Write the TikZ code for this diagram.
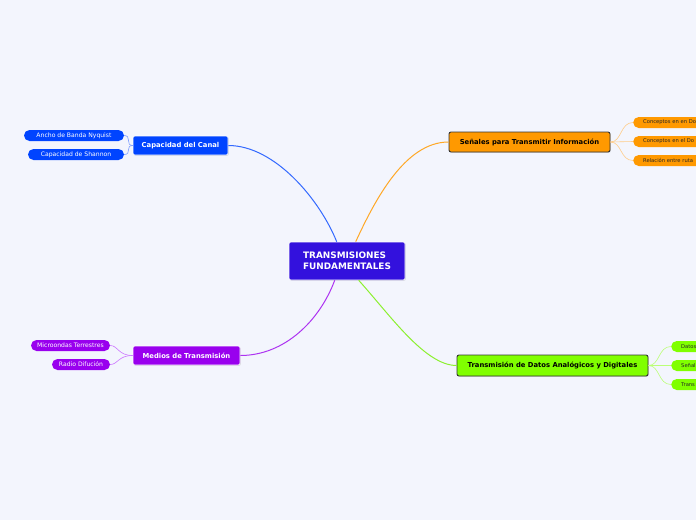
\documentclass[tikz,border=0pt]{standalone}
\usepackage{fontspec}
\setmainfont{DejaVu Sans}
\usetikzlibrary{shadows,calc}
\definecolor{bg}{HTML}{F3F5FD}
\definecolor{cmain}{HTML}{3311DD}
\definecolor{cblue}{HTML}{0044FF}
\definecolor{corange}{HTML}{FF9900}
\definecolor{cgreen}{HTML}{80FF00}
\definecolor{cpurple}{HTML}{9900EE}
\definecolor{lblue}{HTML}{7799FF}
\definecolor{lorange}{HTML}{FFCC88}
\definecolor{lgreen}{HTML}{BBFF77}
\definecolor{lpurple}{HTML}{CC77FF}
\definecolor{bgreen}{HTML}{8CF030}
\tikzset{
  topic/.style={rounded corners=2pt, inner sep=0pt, font=\bfseries\fontsize{6.8}{8}\selectfont},
  litetopic/.style={topic, draw=white, line width=0.6pt, text=white,
     drop shadow={shadow xshift=0.8pt, shadow yshift=-0.8pt, opacity=0.25}},
  darktopic/.style={topic, draw=black!80, line width=0.9pt, text=black,
     drop shadow={shadow xshift=0.8pt, shadow yshift=-0.8pt, opacity=0.25}},
  pill/.style={rounded corners=5.5pt, minimum height=11pt, inner sep=0pt, font=\fontsize{6.1}{7}\selectfont},
  cutpill/.style={pill, anchor=west, align=left, text=black!85, font=\fontsize{5.2}{6}\selectfont},
  branch/.style={line width=1pt},
  twig/.style={line width=0.6pt}
}
\begin{document}
\begin{tikzpicture}[x=1pt,y=-1pt]
\useasboundingbox (0,0) rectangle (696,520);
\fill[bg] (0,0) rectangle (696,520);
\clip (0,0) rectangle (696,520);

% central
\node[litetopic, fill=cmain, minimum width=116pt, minimum height=38pt, align=left,
      font=\bfseries\fontsize{8.9}{11}\selectfont] (center) at (347,261) {TRANSMISIONES\\FUNDAMENTALES};

% main topics
\node[litetopic, fill=cblue, minimum width=95pt, minimum height=19pt] (cap) at (180.5,145.5) {Capacidad del Canal};
\node[darktopic, fill=corange, minimum width=161pt, minimum height=20pt] (sen) at (529.5,142) {Señales para Transmitir Información};
\node[darktopic, fill=cgreen, minimum width=191pt, minimum height=21pt] (tra) at (552.5,365.5) {Transmisión de Datos Analógicos y Digitales};
\node[litetopic, fill=cpurple, minimum width=107pt, minimum height=19pt] (med) at (186.5,355.5) {Medios de Transmisión};

% sub topics
\node[pill, fill=cblue, text=white, minimum width=100pt] (nyq) at (74,135.5) {Ancho de Banda Nyquist};
\node[pill, fill=cblue, text=white, minimum width=96pt] (sha) at (76,154.5) {Capacidad de Shannon};
\node[pill, fill=cpurple, text=white, minimum width=79pt] (mic) at (70.5,345.5) {Microondas Terrestres};
\node[pill, fill=cpurple, text=white, minimum width=58pt] (rad) at (81,364.5) {Radio Difución};

\node[cutpill, fill=corange, minimum width=120pt, text width=100pt] (o1) at (633,122.5) {Conceptos en en Do};
\node[cutpill, fill=corange, minimum width=120pt, text width=100pt] (o2) at (633,141.5) {Conceptos en el Do};
\node[cutpill, fill=corange, minimum width=120pt, text width=100pt] (o3) at (633,160.5) {Relación entre ruta};

\node[cutpill, fill=cgreen, minimum width=80pt, text width=60pt] (g1) at (671,346.5) {Datos};
\node[cutpill, fill=cgreen, minimum width=80pt, text width=60pt] (g2) at (671,365.5) {Señal};
\node[cutpill, fill=cgreen, minimum width=80pt, text width=60pt] (g3) at (671,384.5) {Trans};

% branches
\draw[branch, cblue!80] (cap.east) .. controls (275,145.5) and (320,200) .. ([xshift=48pt]center.north west);
\draw[branch, corange!85] ([xshift=67pt]center.north west) .. controls (375,200) and (405,142) .. (sen.west);
\draw[branch, cpurple!80] ([xshift=46pt]center.south west) .. controls (320,320) and (285,355.5) .. (med.east);
\draw[branch, bgreen] ([xshift=70pt]center.south west) .. controls (390,315) and (425,365.5) .. (tra.west);

% twigs
\draw[twig, lblue] (cap.west) .. controls (125,145.5) and (132,135.5) .. (nyq.east);
\draw[twig, lblue] (cap.west) .. controls (125,145.5) and (132,154.5) .. (sha.east);
\draw[twig, lpurple] (med.west) .. controls (118,355.5) and (118,345.5) .. (mic.east);
\draw[twig, lpurple] (med.west) .. controls (118,355.5) and (118,364.5) .. (rad.east);
\draw[twig, lorange] (sen.east) .. controls (622,142) and (620,122.5) .. (o1.west);
\draw[twig, lorange] (sen.east) -- (o2.west);
\draw[twig, lorange] (sen.east) .. controls (622,142) and (620,160.5) .. (o3.west);
\draw[twig, lgreen] (tra.east) .. controls (660,365.5) and (658,346.5) .. (g1.west);
\draw[twig, lgreen] (tra.east) -- (g2.west);
\draw[twig, lgreen] (tra.east) .. controls (660,365.5) and (658,384.5) .. (g3.west);
\end{tikzpicture}
\end{document}
